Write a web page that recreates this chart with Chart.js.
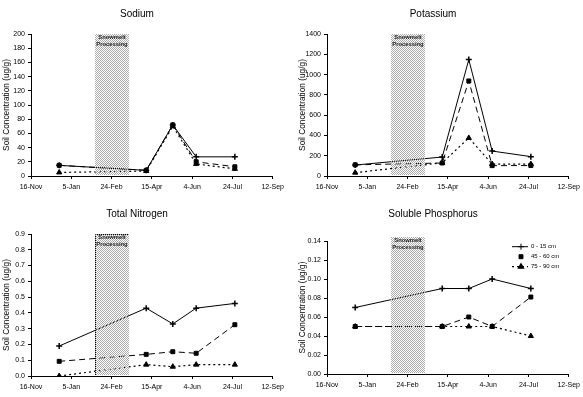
<!DOCTYPE html>
<html><head><meta charset="utf-8">
<script src="https://cdn.jsdelivr.net/npm/chart.js@4"></script>
<style>
html,body{margin:0;padding:0;background:#fff;overflow:hidden;width:583px;height:397px;position:relative}
.p{position:absolute}
canvas{display:block}
</style></head><body>
<div class="p" style="left:0;top:0"><canvas id="c1" width="288" height="198"></canvas></div>
<div class="p" style="left:296px;top:0"><canvas id="c2" width="288" height="198"></canvas></div>
<div class="p" style="left:0;top:200px"><canvas id="c3" width="288" height="197"></canvas></div>
<div class="p" style="left:296px;top:200px"><canvas id="c4" width="288" height="197"></canvas></div>
<script>
// ---- data ----
// sampling dates as days after 16-Nov
const sampleDays = [35, 143, 176, 205, 253];
const xTickValues = [0, 50, 100, 150, 200, 250, 300];
const xTickLabels = ['16-Nov', '5-Jan', '24-Feb', '15-Apr', '4-Jun', '24-Jul', '12-Sep'];
const depthLabels = ['0 - 15 cm', '45 - 60 cm', '75 - 90 cm'];
const bandDays = [79, 122];
const bandText = ['Snowmelt', 'Processing'];

const sodiumTicks = [0, 20, 40, 60, 80, 100, 120, 140, 160, 180, 200];
const sodium0_15 = [15, 8, 72, 27, 27];
const sodium45_60 = [15, 8, 72, 20, 13];
const sodium75_90 = [5, 7, 70, 17, 10];

const potassiumTicks = [0, 200, 400, 600, 800, 1000, 1200, 1400];
const potassium0_15 = [108, 187, 1148, 246, 191];
const potassium45_60 = [110, 128, 937, 102, 103];
const potassium75_90 = [33, 130, 375, 118, 118];

const nitrogenTicks = [0, 0.1, 0.2, 0.3, 0.4, 0.5, 0.6, 0.7, 0.8, 0.9];
const nitrogen0_15 = [0.19, 0.43, 0.33, 0.43, 0.46];
const nitrogen45_60 = [0.093, 0.137, 0.154, 0.144, 0.325];
const nitrogen75_90 = [0.0, 0.072, 0.059, 0.072, 0.072];

const phosphorusTicks = [0, 0.02, 0.04, 0.06, 0.08, 0.10, 0.12, 0.14];
const phosphorus0_15 = [0.07, 0.09, 0.09, 0.10, 0.09];
const phosphorus45_60 = [0.05, 0.05, 0.06, 0.05, 0.081];
const phosphorus75_90 = [0.05, 0.05, 0.05, 0.05, 0.04];

// ---- rendering ----
const FONT = '"Liberation Sans", Arial, sans-serif';

function makePattern(ctx) {
  const pc = document.createElement('canvas');
  pc.width = 2; pc.height = 2;
  const g = pc.getContext('2d');
  g.fillStyle = '#ababab';
  g.fillRect(0, 0, 1, 1);
  g.fillRect(1, 1, 1, 1);
  return ctx.createPattern(pc, 'repeat');
}

const bandPlugin = {
  id: 'band',
  afterDatasetsDraw(chart, args, opts) {
    const {ctx, chartArea, scales} = chart;
    const x0 = Math.round(scales.x.getPixelForValue(bandDays[0]));
    const x1 = Math.round(scales.x.getPixelForValue(bandDays[1]));
    const yTop = Math.round(opts.topValue != null ? scales.y.getPixelForValue(opts.topValue) : chartArea.top);
    const yBot = Math.round(chartArea.bottom) - 1;
    ctx.save();
    ctx.fillStyle = makePattern(ctx);
    ctx.fillRect(x0, yTop, x1 - x0, yBot - yTop);
    if (opts.border) {
      ctx.strokeStyle = '#000';
      ctx.lineWidth = 1;
      ctx.setLineDash([1, 1]);
      ctx.beginPath();
      ctx.moveTo(x0 + 0.5, yBot);
      ctx.lineTo(x0 + 0.5, yTop + 0.5);
      ctx.lineTo(x1, yTop + 0.5);
      ctx.stroke();
    }
    ctx.setLineDash([]);
    ctx.fillStyle = '#222';
    ctx.font = 'bold 5.8px ' + FONT;
    ctx.textAlign = 'center';
    ctx.textBaseline = 'middle';
    const cx = (x0 + x1) / 2;
    ctx.fillText(bandText[0], cx, yTop + 3);
    ctx.fillText(bandText[1], cx, yTop + 10);
    ctx.restore();
  }
};

const legendPlugin = {
  id: 'boxLegend',
  afterDraw(chart, args, opts) {
    if (!opts.show) return;
    const {ctx} = chart;
    const rows = [46.7, 56.7, 66.7];
    ctx.save();
    chart.data.datasets.forEach((ds, i) => {
      const y = rows[i];
      ctx.strokeStyle = '#000';
      ctx.lineWidth = ds.borderWidth;
      ctx.setLineDash(ds.borderDash || []);
      if (i !== 1) {
        ctx.beginPath();
        ctx.moveTo(216, y);
        ctx.lineTo(232, y);
        ctx.stroke();
      }
      ctx.setLineDash([]);
      Chart.helpers.drawPoint(ctx, {
        pointStyle: ds.pointStyle, radius: ds.pointRadius, borderWidth: ds.pointBorderWidth, rotation: 0
      }, 225, y);
      ctx.fillStyle = '#000';
      ctx.font = '6px ' + FONT;
      ctx.textAlign = 'left';
      ctx.textBaseline = 'middle';
      ctx.fillText(ds.label, 235, y);
    });
    ctx.restore();
  }
};

function series(label, values, style) {
  const base = {
    label,
    data: sampleDays.map((d, i) => ({x: d, y: values[i]})),
    borderColor: '#000',
    backgroundColor: '#000',
    pointBackgroundColor: '#000',
    pointBorderColor: '#000',
    tension: 0,
    fill: false
  };
  if (style === 0) Object.assign(base, {borderWidth: 1, borderDash: [], pointStyle: 'cross', pointRadius: 3, pointBorderWidth: 1.5});
  if (style === 1) Object.assign(base, {borderWidth: 1, borderDash: [6, 4], pointStyle: 'rect', pointRadius: 2.8, pointBorderWidth: 1});
  if (style === 2) Object.assign(base, {borderWidth: 1.2, borderDash: [2, 3], pointStyle: 'triangle', pointRadius: 3, pointBorderWidth: 1});
  return base;
}

function makeChart(id, title, yTicks, decimals, vals, cfg) {
  const ctx = document.getElementById(id).getContext('2d');
  return new Chart(ctx, {
    type: 'line',
    data: {
      datasets: vals.map((v, i) => series(depthLabels[i], v, i))
    },
    options: {
      responsive: false,
      animation: false,
      layout: {padding: {left: 0, right: 14, top: 0, bottom: 0}},
      plugins: {
        legend: {display: false},
        tooltip: {enabled: false},
        title: {
          display: true, text: title, color: '#000',
          font: {family: FONT, size: 10, weight: 'normal'},
          padding: {top: 8, bottom: cfg.titleBottom}
        },
        band: {topValue: cfg.bandTop, border: cfg.bandBorder},
        boxLegend: {show: cfg.legend}
      },
      scales: {
        x: {
          type: 'linear',
          min: xTickValues[0], max: xTickValues[xTickValues.length - 1],
          afterBuildTicks: s => { s.ticks = xTickValues.map(v => ({value: v})); },
          afterFit: s => { s.height = cfg.xHeight; },
          ticks: {
            autoSkip: false, maxRotation: 0, color: '#000', padding: 4,
            font: {family: FONT, size: 7},
            callback: (v, i) => xTickLabels[i]
          },
          grid: {display: true, drawOnChartArea: false, drawTicks: true, tickLength: 3, color: '#000', lineWidth: 1},
          border: {display: true, color: '#000', width: 1}
        },
        y: {
          type: 'linear',
          min: yTicks[0], max: yTicks[yTicks.length - 1],
          afterBuildTicks: s => { s.ticks = yTicks.map(v => ({value: v})); },
          afterFit: s => { s.width = 31; },
          ticks: {
            autoSkip: false, color: '#000', padding: 3,
            font: {family: FONT, size: 7},
            callback: (v, i) => yTicks[i].toFixed(decimals)
          },
          title: {
            display: true, text: 'Soil Concentration (ug/g)', color: '#000',
            font: {family: FONT, size: 8.3}, padding: {top: 2, bottom: 0}
          },
          grid: {display: true, drawOnChartArea: false, drawTicks: true, tickLength: 3, color: '#000', lineWidth: 1},
          border: {display: true, color: '#000', width: 1}
        }
      }
    },
    plugins: [bandPlugin, legendPlugin]
  });
}

makeChart('c1', 'Sodium', sodiumTicks, 0, [sodium0_15, sodium45_60, sodium75_90],
  {titleBottom: 14, xHeight: 22, bandTop: null, bandBorder: false, legend: false});
makeChart('c2', 'Potassium', potassiumTicks, 0, [potassium0_15, potassium45_60, potassium75_90],
  {titleBottom: 14, xHeight: 22, bandTop: null, bandBorder: false, legend: false});
makeChart('c3', 'Total Nitrogen', nitrogenTicks, 1, [nitrogen0_15, nitrogen45_60, nitrogen75_90],
  {titleBottom: 14, xHeight: 21, bandTop: null, bandBorder: true, legend: false});
makeChart('c4', 'Soluble Phosphorus', phosphorusTicks, 2, [phosphorus0_15, phosphorus45_60, phosphorus75_90],
  {titleBottom: 21, xHeight: 23, bandTop: 0.1443, bandBorder: false, legend: true});
</script>
</body></html>
